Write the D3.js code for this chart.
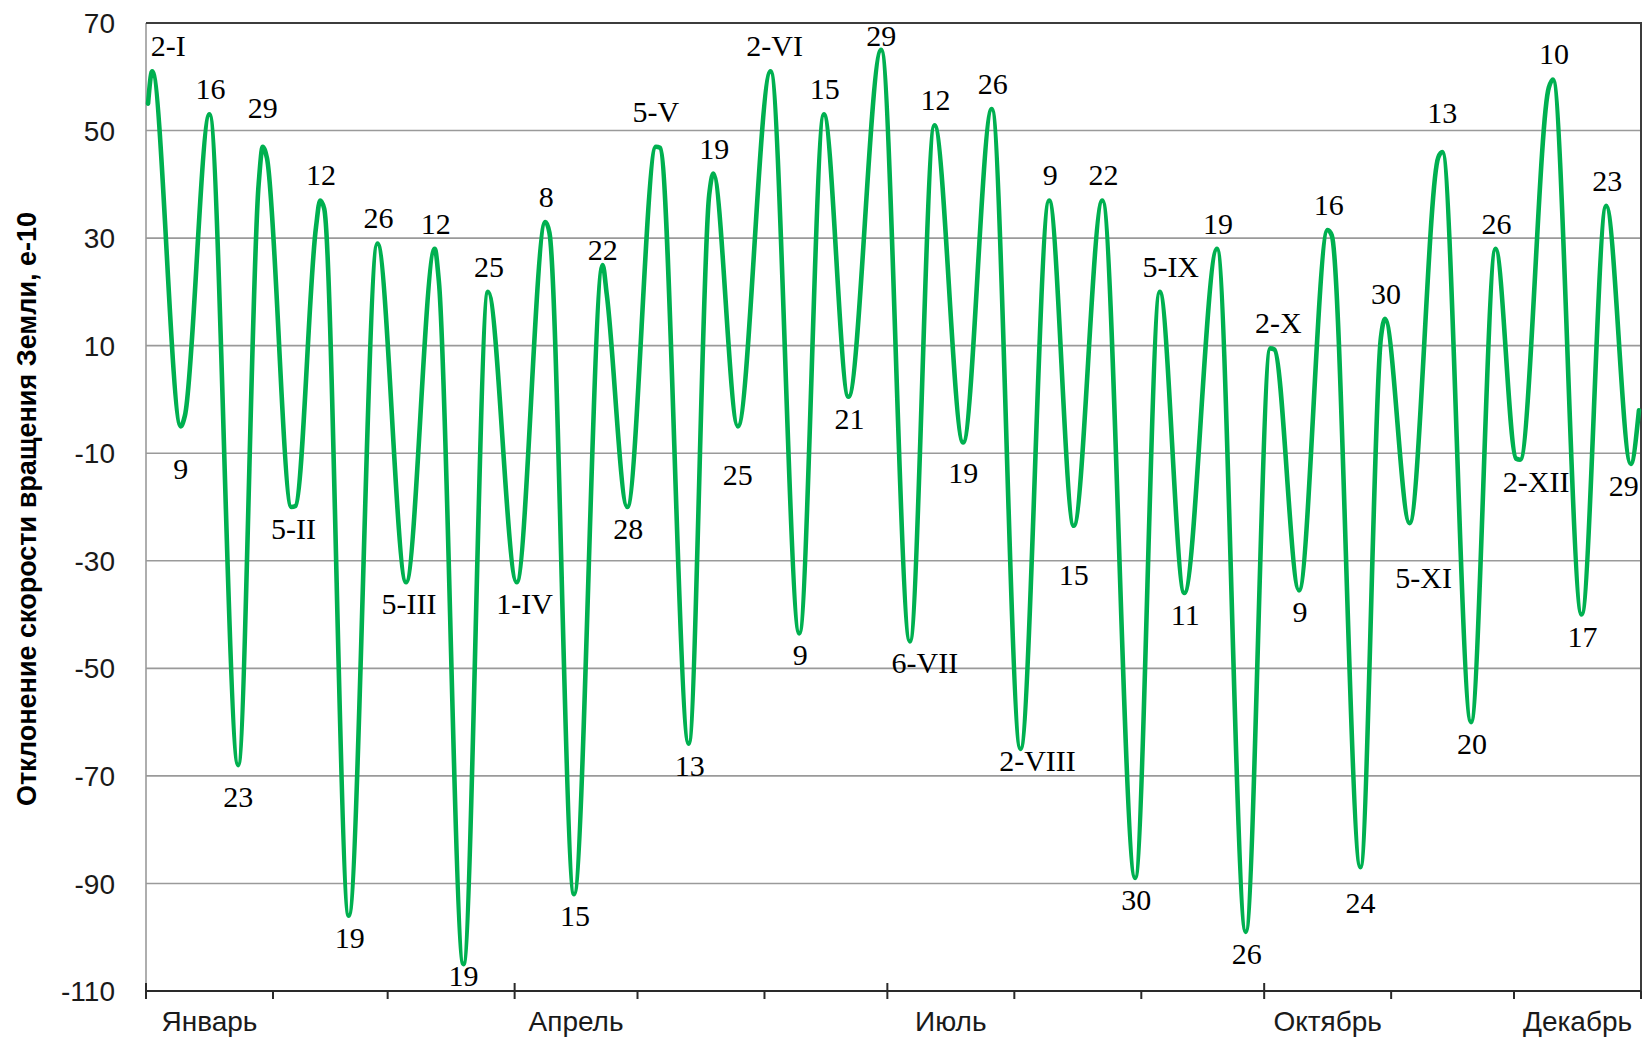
<!DOCTYPE html>
<html lang="ru">
<head>
<meta charset="utf-8">
<title>Отклонение скорости вращения Земли</title>
<script src="https://cdn.jsdelivr.net/npm/d3@7"></script>
<style>
  html, body { margin: 0; padding: 0; background: #ffffff; }
  svg { display: block; }
</style>
</head>
<body>
<svg id="chart" width="1643" height="1040"></svg>
<script>
// Daily rotation-speed deviation, e-10: turning points of the curve (MM-DD) and values
const pointDays = [
  "01-01","01-02","01-09","01-10","01-16","01-23","01-28","01-29","01-30",
  "02-05","02-06","02-11","02-12","02-13","02-19","02-26",
  "03-05","03-12","03-13","03-19","03-25",
  "04-01","04-08","04-09","04-15","04-22","04-23","04-28",
  "05-05","05-06","05-13","05-18","05-19","05-25",
  "06-02","06-09","06-15","06-21","06-29",
  "07-06","07-12","07-19","07-26",
  "08-02","08-09","08-15","08-22","08-30",
  "09-05","09-11","09-19","09-26",
  "10-02","10-03","10-09","10-16","10-17","10-24","10-29","10-30",
  "11-05","11-12","11-13","11-20","11-26",
  "12-01","12-02","12-09","12-10","12-17","12-23","12-29","12-31"
];
const pointValues = [
  55, 61, -5, -3, 53, -68, 40, 47, 45,
  -20, -19.8, 32, 37, 35.5, -96, 29,
  -34, 28, 22, -105, 20,
  -34, 33, 31, -92, 25, 19.5, -20,
  47, 46.8, -64, 38, 42, -5,
  61, -43.5, 53, 0.5, 65,
  -45, 51, -8, 54,
  -65, 37, -23.5, 37, -89,
  20, -36, 28, -99,
  9.5, 9.3, -35.5, 31.5, 30.5, -87, 11.5, 15,
  -23, 45, 46, -60, 28,
  -11, -11.2, 58, 59.5, -40, 36, -12, -2
];

// Dates of the extremes and their captions
const labelDays = [
  "01-02","01-09","01-16","01-23","01-29","02-05","02-12","02-19","02-26",
  "03-05","03-12","03-19","03-25","04-01","04-08","04-15","04-22","04-28",
  "05-05","05-13","05-19","05-25","06-02","06-09","06-15","06-21","06-29",
  "07-06","07-12","07-19","07-26","08-02","08-09","08-15","08-22","08-30",
  "09-05","09-11","09-19","09-26","10-02","10-09","10-16","10-24","10-30",
  "11-05","11-13","11-20","11-26","12-02","12-10","12-17","12-23","12-29"
];
const labelTexts = [
  "2-I","9","16","23","29","5-II","12","19","26",
  "5-III","12","19","25","1-IV","8","15","22","28",
  "5-V","13","19","25","2-VI","9","15","21","29",
  "6-VII","12","19","26","2-VIII","9","15","22","30",
  "5-IX","11","19","26","2-X","9","16","24","30",
  "5-XI","13","20","26","2-XII","10","17","23","29"
];

// Axis captions
const yTicks = [70, 50, 30, 10, -10, -30, -50, -70, -90, -110];
const monthLabelIndex = [0, 3, 6, 9, 11];
const monthLabelText = ["Январь", "Апрель", "Июль", "Октябрь", "Декабрь"];
const yTitle = "Отклонение скорости вращения Земли, е-10";

// Hand placement of captions that sit off their default spot: [dx, dy] in px
const captionNudge = {
  "01-02": [16, 0], "02-05": [2, 0], "03-05": [3, 0], "04-01": [8, 0],
  "05-05": [0, -10], "06-02": [4, 0], "07-06": [15, 0], "08-02": [17, -10],
  "09-05": [11, 0], "10-02": [8, 0], "11-05": [14, 33], "12-02": [16, 0],
  "01-29": [0, -14], "04-22": [0, 10], "06-29": [0, 11], "11-13": [0, -14],
  "01-09": [0, 21], "05-25": [0, 27], "08-15": [0, 27], "03-19": [0, -10],
  "10-24": [0, 14], "01-23": [0, 10], "07-19": [0, 9], "12-29": [-7, 0]
};

const YEAR = 2019; // any non-leap year: 365 daily slots
const parseDay = s => {
  const [m, d] = s.split("-").map(Number);
  return new Date(Date.UTC(YEAR, m - 1, d, 12));
};

const series = pointDays.map((d, i) => ({ date: parseDay(d), value: pointValues[i] }));

const plot = { left: 146, right: 1641, top: 23, bottom: 991 };

const x = d3.scaleUtc()
  .domain([new Date(Date.UTC(YEAR, 0, 1)), new Date(Date.UTC(YEAR + 1, 0, 1))])
  .range([plot.left, plot.right]);

const y = d3.scaleLinear()
  .domain([-110, 70])
  .range([plot.bottom, plot.top]);

const svg = d3.select("#chart");

svg.append("rect")
  .attr("width", 1643).attr("height", 1040).attr("fill", "#ffffff");

// horizontal gridlines
svg.append("g")
  .selectAll("line")
  .data(yTicks.filter(v => v !== -110 && v !== 70))
  .join("line")
  .attr("x1", plot.left).attr("x2", plot.right)
  .attr("y1", d => y(d)).attr("y2", d => y(d))
  .attr("stroke", "#9a9a9a").attr("stroke-width", 1.6);

// left value axis (grey) and top/right frame (dark)
svg.append("line")
  .attr("x1", plot.left).attr("x2", plot.left)
  .attr("y1", plot.top).attr("y2", plot.bottom + 8)
  .attr("stroke", "#9a9a9a").attr("stroke-width", 1.6);
svg.append("path")
  .attr("d", `M${plot.left},${y(70)}H${plot.right}V${plot.bottom}`)
  .attr("fill", "none").attr("stroke", "#3c3c3c").attr("stroke-width", 2);

// value labels on the left
svg.append("g")
  .selectAll("text")
  .data(yTicks)
  .join("text")
  .attr("x", 115)
  .attr("y", d => y(d))
  .attr("dy", "0.36em")
  .attr("text-anchor", "end")
  .attr("font-family", "'Liberation Sans', Arial, sans-serif")
  .attr("font-size", 28)
  .attr("fill", "#1a1a1a")
  .text(d => d);

// axis title
svg.append("text")
  .attr("transform", `translate(36,${(plot.top + plot.bottom) / 2 + 2}) rotate(-90)`)
  .attr("text-anchor", "middle")
  .attr("font-family", "'Liberation Sans', Arial, sans-serif")
  .attr("font-weight", "bold")
  .attr("font-size", 27)
  .attr("fill", "#000")
  .text(yTitle);

// month axis: quarter ticks cross the line, other months point outward
const monthStarts = d3.utcMonth.range(x.domain()[0], x.domain()[1]).concat([x.domain()[1]]);
const xAxis = svg.append("g");
xAxis.append("line")
  .attr("x1", plot.left).attr("x2", plot.right)
  .attr("y1", plot.bottom).attr("y2", plot.bottom)
  .attr("stroke", "#2a2a2a").attr("stroke-width", 2);
xAxis.selectAll("line.tick")
  .data(monthStarts)
  .join("line")
  .attr("class", "tick")
  .attr("x1", d => x(d)).attr("x2", d => x(d))
  .attr("y1", d => (d.getUTCMonth() % 3 === 0 && d < x.domain()[1]) ? plot.bottom - 8 : plot.bottom)
  .attr("y2", plot.bottom + 8)
  .attr("stroke", "#2a2a2a").attr("stroke-width", 2);

xAxis.selectAll("text")
  .data(monthLabelIndex)
  .join("text")
  .attr("x", m => {
    const a = new Date(Date.UTC(YEAR, m, 1)), b = new Date(Date.UTC(YEAR, m + 1, 1));
    return (x(a) + x(b)) / 2;
  })
  .attr("y", 1031)
  .attr("text-anchor", "middle")
  .attr("font-family", "'Liberation Sans', Arial, sans-serif")
  .attr("font-size", 28)
  .attr("fill", "#1a1a1a")
  .text((m, i) => monthLabelText[i]);

// the deviation curve
const line = d3.line()
  .x(d => x(d.date))
  .y(d => y(d.value))
  .curve(d3.curveMonotoneX);

svg.append("path")
  .datum(series)
  .attr("d", line)
  .attr("fill", "none")
  .attr("stroke", "#00b050")
  .attr("stroke-width", 4.6)
  .attr("stroke-linejoin", "round")
  .attr("stroke-linecap", "round");

// date captions at maxima (above) and minima (below)
const labels = labelDays.map((d, i) => {
  const k = pointDays.indexOf(d);
  const v = pointValues[k];
  const isPeak = k === 0 || v >= pointValues[k - 1];
  const [dx, dy] = captionNudge[d] || [1, 0];
  return { date: parseDay(d), value: v, text: labelTexts[i], isPeak, dx, dy };
});

svg.append("g")
  .selectAll("text")
  .data(labels)
  .join("text")
  .attr("x", d => x(d.date) + d.dx)
  .attr("y", d => (d.isPeak ? y(d.value) - 15 : y(d.value) + 32) + d.dy)
  .attr("text-anchor", "middle")
  .attr("font-family", "'Liberation Serif', 'Times New Roman', serif")
  .attr("font-size", 30)
  .attr("fill", "#000")
  .text(d => d.text);
</script>
</body>
</html>
